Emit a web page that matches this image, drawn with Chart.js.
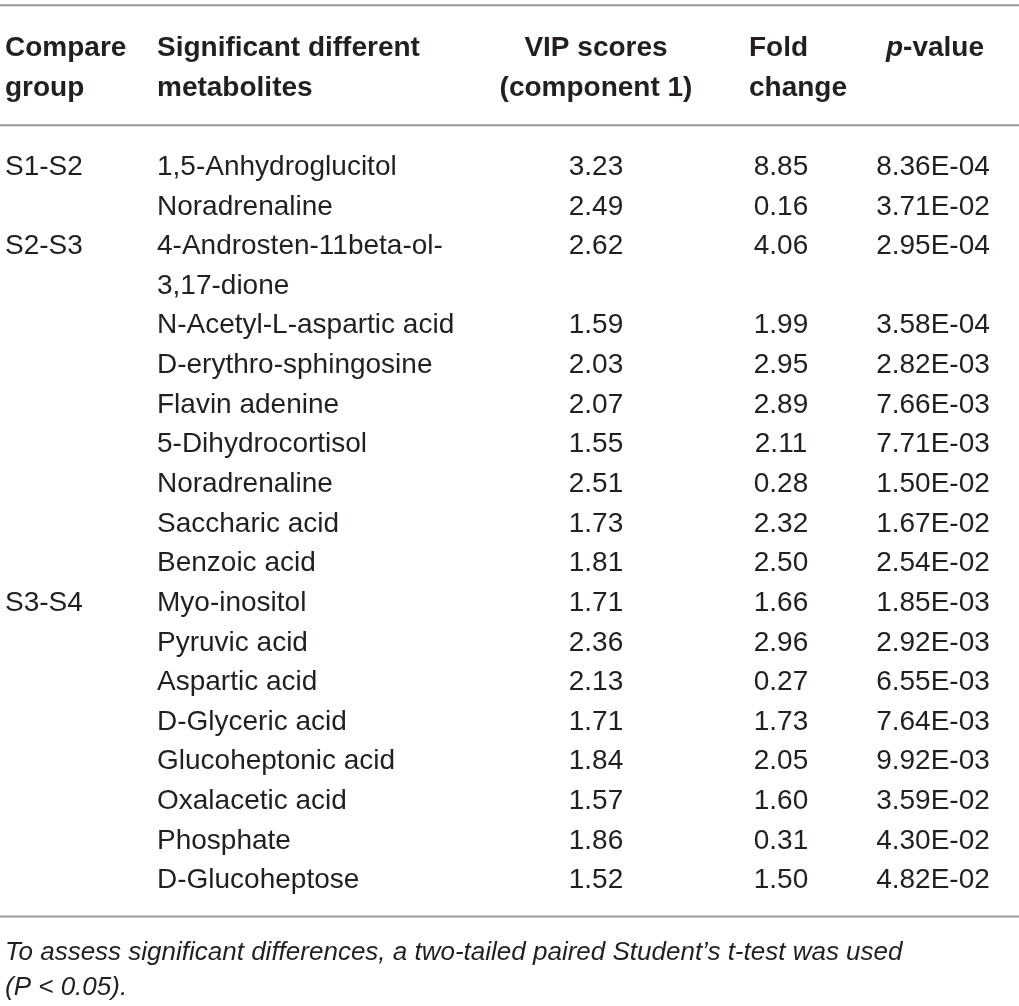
<!DOCTYPE html>
<html lang="en">
<head>
<meta charset="UTF-8">
<title>Significant different metabolites</title>
<script src="https://cdn.jsdelivr.net/npm/chart.js@4.4.1/dist/chart.umd.min.js"></script>
<style>
    html, body { margin: 0; padding: 0; background: #ffffff; }
    #wrap { width: 1019px; height: 1006px; position: relative; }
</style>
</head>
<body>
<div id="wrap"><canvas id="tbl"></canvas></div>
<script>
// table contents
const headers = [
    ['Compare', 'group'],
    ['Significant different', 'metabolites'],
    ['VIP scores', '(component 1)'],
    ['Fold', 'change'],
    ['p-value']
];
const groups = ['S1-S2', 'S2-S3', 'S3-S4'];
const groupOf = [0, 0, 1, 1, 1, 1, 1, 1, 1, 1, 2, 2, 2, 2, 2, 2, 2, 2];
const metabolites = [
    '1,5-Anhydroglucitol', 'Noradrenaline',
    '4-Androsten-11beta-ol-3,17-dione', 'N-Acetyl-L-aspartic acid', 'D-erythro-sphingosine',
    'Flavin adenine', '5-Dihydrocortisol', 'Noradrenaline', 'Saccharic acid', 'Benzoic acid',
    'Myo-inositol', 'Pyruvic acid', 'Aspartic acid', 'D-Glyceric acid', 'Glucoheptonic acid',
    'Oxalacetic acid', 'Phosphate', 'D-Glucoheptose'
];
const vip = [3.23, 2.49, 2.62, 1.59, 2.03, 2.07, 1.55, 2.51, 1.73, 1.81, 1.71, 2.36, 2.13, 1.71, 1.84, 1.57, 1.86, 1.52];
const fold = [8.85, 0.16, 4.06, 1.99, 2.95, 2.89, 2.11, 0.28, 2.32, 2.50, 1.66, 2.96, 0.27, 1.73, 2.05, 1.60, 0.31, 1.50];
const pValues = [8.36e-4, 3.71e-2, 2.95e-4, 3.58e-4, 2.82e-3, 7.66e-3, 7.71e-3, 1.50e-2, 1.67e-2, 2.54e-2,
    1.85e-3, 2.92e-3, 6.55e-3, 7.64e-3, 9.92e-3, 3.59e-2, 4.30e-2, 4.82e-2];
const footnote = [
    'To assess significant differences, a two-tailed paired Student\u2019s t-test was used',
    '(P < 0.05).'
];

// layout
const FAMILY = '"Liberation Sans", Arial, sans-serif';
const BODY = '28px ' + FAMILY;
const HEAD = 'bold 28px ' + FAMILY;
const NOTE = 'italic 26px ' + FAMILY;
const INK = '#231f20';
const RULE = '#9a9a9a';
const cols = [
    { x: 5, align: 'left', headX: 5, headAlign: 'left' },
    { x: 157, align: 'left', headX: 157, headAlign: 'left' },
    { x: 596, align: 'center', headX: 596, headAlign: 'center' },
    { x: 781, align: 'center', headX: 749, headAlign: 'left' },
    { x: 933, align: 'center', headX: 935, headAlign: 'center' }
];
const nameWidth = 340;

function sci(v) {
    const [m, e] = v.toExponential(2).split('e');
    const n = parseInt(e, 10);
    return m + 'E' + (n < 0 ? '-' : '+') + String(Math.abs(n)).padStart(2, '0');
}

// break long names after a hyphen so they fit the column
const measure = document.createElement('canvas').getContext('2d');
measure.font = BODY;
function wrap(name) {
    if (measure.measureText(name).width <= nameWidth) return [name];
    let cut = -1;
    for (let i = 0; i < name.length; i++) {
        if (name[i] === '-' && measure.measureText(name.slice(0, i + 1)).width <= nameWidth) cut = i + 1;
    }
    if (cut < 0) return [name];
    return [name.slice(0, cut)].concat(wrap(name.slice(cut)));
}

// one line slot per text line
const rowSlot = [];
const nameCells = [];
let slot = 0;
metabolites.forEach(name => {
    rowSlot.push(slot);
    wrap(name).forEach((line, k) => nameCells.push({ x: cols[1].x, y: slot + k, label: line }));
    slot += wrap(name).length;
});

const groupCells = groups.map((g, gi) => ({ x: cols[0].x, y: rowSlot[groupOf.indexOf(gi)], label: g }));
const vipCells = vip.map((v, i) => ({ x: cols[2].x, y: rowSlot[i], label: v.toFixed(2) }));
const foldCells = fold.map((v, i) => ({ x: cols[3].x, y: rowSlot[i], label: v.toFixed(2) }));
const pCells = pValues.map((v, i) => ({ x: cols[4].x, y: rowSlot[i], label: sci(v) }));

const headCells = [];
headers.forEach((lines, c) => {
    lines.forEach((line, k) => {
        const cell = { x: cols[c].headX, y: k - 3, label: line };
        if (line === 'p-value') cell.parts = [['p', 'italic ' + HEAD], ['-value', HEAD]];
        headCells.push(cell);
    });
});
const noteCells = footnote.map((line, k) => ({ x: 5, y: slot + 0.8 + k * 0.9, label: line }));

function textSet(cells, font, align, fit) {
    return { type: 'scatter', data: cells, pointRadius: 0, cellFont: font, cellAlign: align, cellFit: fit };
}
function ruleSet(y) {
    return {
        type: 'line', data: [{ x: 0, y: y }, { x: 1019, y: y }], showLine: true,
        borderColor: RULE, borderWidth: 2, pointRadius: 0, fill: false
    };
}

const headAligns = [];
headers.forEach((lines, c) => lines.forEach(() => headAligns.push(cols[c].headAlign)));

const cellText = {
    id: 'cellText',
    afterDatasetsDraw(chart) {
        const ctx = chart.ctx;
        ctx.save();
        ctx.fillStyle = INK;
        ctx.textBaseline = 'alphabetic';
        chart.data.datasets.forEach((ds, di) => {
            if (!ds.cellFont) return;
            const meta = chart.getDatasetMeta(di);
            meta.data.forEach((pt, i) => {
                const cell = ds.data[i];
                const align = Array.isArray(ds.cellAlign) ? ds.cellAlign[i] : ds.cellAlign;
                const base = pt.y + 10;
                if (cell.parts) {
                    let w = 0;
                    cell.parts.forEach(p => { ctx.font = p[1]; w += ctx.measureText(p[0]).width; });
                    let x = align === 'center' ? pt.x - w / 2 : pt.x;
                    ctx.textAlign = 'left';
                    cell.parts.forEach(p => {
                        ctx.font = p[1];
                        ctx.fillText(p[0], x, base);
                        x += ctx.measureText(p[0]).width;
                    });
                    return;
                }
                ctx.font = ds.cellFont;
                ctx.textAlign = align;
                if (ds.cellFit) ctx.fillText(cell.label, pt.x, base, ds.cellFit);
                else ctx.fillText(cell.label, pt.x, base);
            });
        });
        ctx.restore();
    }
};

new Chart(document.getElementById('tbl'), {
    type: 'scatter',
    data: {
        datasets: [
            ruleSet(-4.03), ruleSet(-1), ruleSet(slot - 0.04),
            textSet(headCells, HEAD, headAligns),
            textSet(groupCells, BODY, cols[0].align),
            textSet(nameCells, BODY, cols[1].align),
            textSet(vipCells, BODY, cols[2].align),
            textSet(foldCells, BODY, cols[3].align),
            textSet(pCells, BODY, cols[4].align),
            textSet(noteCells, NOTE, 'left', 905)
        ]
    },
    options: {
        responsive: true,
        maintainAspectRatio: false,
        animation: false,
        events: [],
        layout: { padding: 0 },
        scales: {
            x: { type: 'linear', min: 0, max: 1019, display: false },
            y: { type: 'linear', min: -4.16, max: 21.22, reverse: true, display: false }
        },
        plugins: { legend: { display: false }, tooltip: { enabled: false } }
    },
    plugins: [cellText]
});
</script>
</body>
</html>
